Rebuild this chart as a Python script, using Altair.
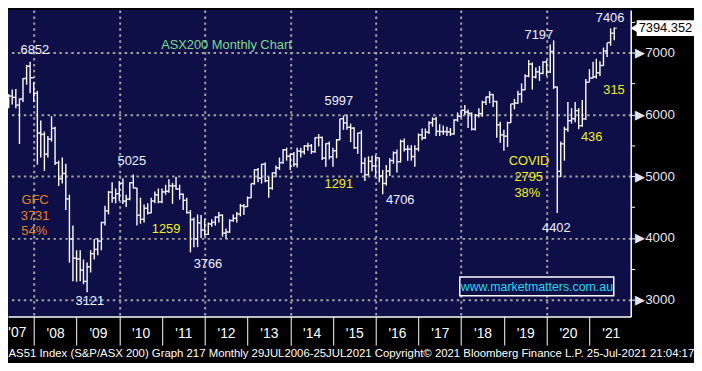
import altair as alt
import pandas as pd

# ---------------- data: ASX200 monthly OHLC (May 2007 .. Jul 2021) ----------------
first_month = "2007-05"
last_month = "2021-07"

opens = [
    6180, 6296, 6274, 6149, 6248, 6580, 6779, 6592,
    6340, 5697, 5675, 5355, 5598, 5773, 5215, 4958, 5043, 4631, 3983, 3672,
    3659, 3478, 3296, 3532, 3745, 3813, 3948, 4249, 4438, 4740, 4646, 4715,
    4883, 4596, 4627, 4893, 4807, 4367, 4301, 4479, 4403, 4598, 4697, 4585,
    4745, 4754, 4844, 4843, 4791, 4707, 4608, 4410, 4297, 3985, 4243, 4127,
    4057, 4226, 4251, 4335, 4366, 4076, 4095, 4281, 4316, 4387, 4517, 4506,
    4649, 4879, 5104, 4966, 5191, 4926, 4803, 5052, 5135, 5218, 5426, 5321,
    5353, 5191, 5405, 5394, 5489, 5492, 5396, 5623, 5625, 5292, 5527, 5313,
    5411, 5588, 5929, 5862, 5790, 5777, 5459, 5699, 5207, 5022, 5239, 5166,
    5296, 5005, 4881, 5082, 5252, 5378, 5233, 5562, 5433, 5436, 5317, 5440,
    5666, 5621, 5712, 5864, 5924, 5724, 5721, 5720, 5715, 5682, 5909, 5969,
    6065, 6037, 6016, 5759, 5983, 6012, 6195, 6281, 6320, 6208, 5830, 5668,
    5646, 5865, 6169, 6181, 6326, 6397, 6619, 6813, 6604, 6688, 6663, 6846,
    6684, 7017, 6441, 5077, 5523, 5756, 5898, 5928, 6061, 5816, 5928, 6518,
    6587, 6607, 6673, 6791, 7025, 7162, 7313,
]
highs = [
    6330, 6400, 6410, 6255, 6590, 6800, 6852, 6520,
    6380, 5900, 5720, 5650, 5970, 5800, 5250, 5300, 5200, 4700, 4200, 3800,
    3800, 3650, 3600, 3800, 3980, 4000, 4260, 4520, 4760, 4900, 4800, 4920,
    4960, 4700, 4900, 5025, 4810, 4650, 4540, 4560, 4650, 4750, 4800, 4800,
    4860, 4950, 4890, 4990, 4860, 4720, 4650, 4450, 4330, 4380, 4370, 4300,
    4250, 4300, 4350, 4420, 4380, 4150, 4300, 4380, 4420, 4550, 4550, 4670,
    4880, 5110, 5130, 5200, 5220, 4990, 5060, 5170, 5300, 5440, 5460, 5360,
    5390, 5460, 5460, 5500, 5540, 5520, 5630, 5680, 5640, 5530, 5560, 5460,
    5600, 5930, 5980, 5997, 5850, 5790, 5700, 5740, 5300, 5320, 5330, 5340,
    5300, 5100, 5180, 5290, 5400, 5430, 5590, 5610, 5500, 5500, 5500, 5690,
    5770, 5770, 5890, 5950, 5960, 5840, 5820, 5800, 5780, 5920, 6030, 6080,
    6150, 6080, 6030, 6000, 6100, 6220, 6290, 6373, 6330, 6220, 5880, 5750,
    5880, 6170, 6250, 6380, 6500, 6650, 6880, 6840, 6760, 6780, 6860, 6880,
    7130, 7197, 6450, 5560, 5800, 6200, 6100, 6200, 6100, 6230, 6570, 6730,
    6850, 6900, 6860, 7080, 7160, 7390, 7406,
]
lows = [
    6100, 6160, 6100, 5520, 6200, 6480, 6340, 6200,
    5186, 5300, 5086, 5300, 5560, 5180, 4840, 4880, 4450, 3600, 3300, 3290,
    3300, 3250, 3121, 3440, 3650, 3720, 3800, 4200, 4380, 4570, 4560, 4600,
    4550, 4500, 4610, 4800, 4200, 4230, 4250, 4380, 4400, 4560, 4560, 4560,
    4700, 4730, 4550, 4780, 4620, 4450, 4390, 3766, 3850, 3850, 4000, 4030,
    4050, 4180, 4200, 4250, 4020, 3985, 4080, 4260, 4250, 4350, 4370, 4500,
    4640, 4860, 4900, 4880, 4900, 4650, 4780, 4980, 5100, 5200, 5250, 5100,
    5150, 5140, 5300, 5350, 5410, 5360, 5380, 5480, 5260, 5150, 5270, 5150,
    5290, 5580, 5750, 5750, 5550, 5440, 5360, 5050, 4920, 5010, 5080, 4990,
    4900, 4706, 4850, 5000, 5200, 5060, 5220, 5400, 5250, 5250, 5150, 5400,
    5580, 5600, 5680, 5800, 5650, 5650, 5670, 5650, 5650, 5670, 5880, 5950,
    5990, 5780, 5740, 5740, 5950, 5960, 6150, 6180, 6120, 5620, 5540, 5410,
    5470, 5860, 6080, 6170, 6190, 6390, 6600, 6400, 6580, 6540, 6650, 6620,
    6670, 6410, 4402, 4980, 5250, 5720, 5850, 5870, 5760, 5800, 5910, 6520,
    6580, 6580, 6620, 6780, 6930, 7110, 7200,
]
closes = [
    6296, 6274, 6149, 6248, 6580, 6779, 6592, 6340,
    5697, 5675, 5355, 5598, 5773, 5215, 4958, 5043, 4631, 3983, 3672, 3659,
    3478, 3296, 3532, 3745, 3813, 3948, 4249, 4438, 4740, 4646, 4715, 4883,
    4596, 4627, 4893, 4807, 4367, 4301, 4479, 4403, 4598, 4697, 4585, 4745,
    4754, 4844, 4843, 4791, 4707, 4608, 4410, 4297, 3985, 4243, 4127, 4057,
    4226, 4251, 4335, 4366, 4076, 4095, 4281, 4316, 4387, 4517, 4506, 4649,
    4879, 5104, 4966, 5191, 4926, 4803, 5052, 5135, 5218, 5426, 5321, 5353,
    5191, 5405, 5394, 5489, 5492, 5396, 5623, 5625, 5292, 5527, 5313, 5411,
    5588, 5929, 5862, 5790, 5777, 5459, 5699, 5207, 5022, 5239, 5166, 5296,
    5005, 4881, 5082, 5252, 5378, 5233, 5562, 5433, 5436, 5317, 5440, 5666,
    5621, 5712, 5864, 5924, 5724, 5721, 5720, 5715, 5682, 5909, 5969, 6065,
    6037, 6016, 5759, 5983, 6012, 6195, 6281, 6320, 6208, 5830, 5668, 5646,
    5865, 6169, 6181, 6326, 6397, 6619, 6813, 6604, 6688, 6663, 6846, 6684,
    7017, 6441, 5077, 5523, 5756, 5898, 5928, 6061, 5816, 5928, 6518, 6587,
    6607, 6673, 6791, 7025, 7162, 7313, 7394.352,
]

last_price = 7394.352
last_price_label = "7394.352"

# annotations (text, anchor date, anchor value, colour group)
ann_text = ["ASX200 Monthly Chart", "6852", "5025", "GFC", "3731", "54%", "1259",
            "3121", "3766", "5997", "1291", "4706", "7197", "COVID", "2795",
            "38%", "4402", "436", "315", "7406"]
ann_date = ["2012-07-05", "2008-01-10", "2010-04-18", "2008-01-12", "2008-01-12",
            "2008-01-05", "2011-02-05", "2009-04-24", "2012-01-29", "2015-02-20",
            "2015-02-20", "2016-07-29", "2019-10-26", "2019-08-04", "2019-08-01",
            "2019-07-20", "2020-03-24", "2021-01-20", "2021-07-30", "2021-06-26"]
ann_value = [7128, 7048, 5240, 4616, 4360, 4104, 4136,
             2984, 3576, 6216, 4872, 4616, 7288, 5240, 4984,
             4728, 4152, 5640, 6392, 7560]
ann_kind = ["title", "level", "level", "gfc", "gfc", "gfc", "move",
            "level", "level", "level", "move", "level", "level", "move", "move",
            "move", "level", "move", "move", "level"]

# first (partial) year label, sitting left of the first January separator
first_year_label = "'07"
first_year_date = "2007-05-29"

web_text = "www.marketmatters.com.au"
web_box_dates = ["2017-12-20", "2021-07-28"]
web_box_values = [3368, 3064]
web_text_date = "2019-10-10"
web_text_value = 3212

footer = ("AS51 Index (S&P/ASX 200) Graph 217  Monthly 29JUL2006-25JUL2021  "
          "Copyright\u00a9 2021 Bloomberg Finance L.P.   25-Jul-2021 21:04:17")

# ---------------- tables ----------------
periods = pd.period_range(first_month, last_month, freq="M")
bar_dates = [(p + 1).start_time.strftime("%Y-%m-%d") for p in periods]
df = pd.DataFrame({"month": [str(p) for p in periods], "date": bar_dates,
                   "open": opens, "high": highs, "low": lows, "close": closes})

ann = pd.DataFrame({"text": ann_text, "date": ann_date, "value": ann_value, "kind": ann_kind})
box = pd.DataFrame({"d1": [web_box_dates[0]], "d2": [web_box_dates[1]],
                    "v1": [web_box_values[0]], "v2": [web_box_values[1]]})
web = pd.DataFrame({"text": [web_text], "date": [web_text_date], "value": [web_text_value]})
tag = pd.DataFrame({"value": [last_price], "text": [last_price_label]})
yr0 = pd.DataFrame({"text": [first_year_label], "date": [first_year_date]})

# ---------------- styling ----------------
NAVY = "#0f0f48"
GRID = "#a0a0a0"
SANS = "Liberation Sans, Arial, sans-serif"
YEAR_FONT_SIZE = 14
Y_MIN, Y_MAX = 2728, 7688
PLOT_H = 310

x_scale = alt.Scale(type="utc", domain=[alt.DateTime(year=2007, month=5, date=26, utc=True),
                                         alt.DateTime(year=2021, month=12, date=20, utc=True)])
y_scale = alt.Scale(domain=[Y_MIN, Y_MAX], nice=False, zero=False)

x_axis = alt.Axis(
    values=[alt.DateTime(year=yr, month=1, date=1, utc=True) for yr in range(2008, 2022)],
    labelExpr="\"'\" + utcFormat(datum.value, '%y')",
    labelOffset=21.6, labelPadding=-12, labelBaseline="middle",
    labelFont=SANS, labelFontSize=YEAR_FONT_SIZE, labelColor="white",
    labelOverlap=False, labelBound=False, labelFlush=False,
    tickColor="white", tickSize=29, tickWidth=1,
    domainColor="white", domainWidth=1.5,
    grid=True, gridColor=GRID, gridDash=[2.5, 3.5], gridWidth=2,
    gridOpacity={"condition": {"test": "utcyear(datum.value) % 2 == 0", "value": 1}, "value": 0},
    title=footer, titleFont=SANS, titleFontSize=11.5, titleFontWeight="normal",
    titleColor="white", titleAnchor="start", titleAlign="left",
    titleX=0, titleY=41, titleBaseline="alphabetic",
)
y_axis = alt.Axis(
    orient="right",
    values=list(range(3000, 8000, 500)),
    labelExpr="datum.value % 1000 == 0 ? '\u25b6' + datum.value : ''",
    labelFont=SANS, labelFontSize=13.5, labelColor="#e4e4f0", labelPadding=0,
    labelBaseline="middle",
    tickColor="white", tickSize=4, tickWidth=1,
    domainColor="white", domainWidth=1.5,
    grid=True, gridColor=GRID, gridDash=[2.5, 3.5], gridWidth=2,
    gridOpacity={"condition": {"test": "datum.value % 1000 == 0", "value": 1}, "value": 0},
    title=None,
)

X = alt.X("date:T", scale=x_scale, axis=x_axis)

base = alt.Chart(df).encode(x=X)

hl = base.mark_rule(color="white", strokeWidth=1.4).encode(
    y=alt.Y("low:Q", scale=y_scale, axis=y_axis), y2="high:Q")
op = base.mark_tick(orient="horizontal", color="white", size=2.6, thickness=1.4, xOffset=-1.3).encode(
    y=alt.Y("open:Q", scale=y_scale, axis=y_axis))
cl = base.mark_tick(orient="horizontal", color="white", size=2.6, thickness=1.4, xOffset=1.3).encode(
    y=alt.Y("close:Q", scale=y_scale, axis=y_axis))

color_scale = alt.Scale(domain=["title", "level", "gfc", "move"],
                        range=["#7ddc8c", "#f0f0ff", "#e8801e", "#f0f020"])
labels = alt.Chart(ann).mark_text(font=SANS, fontSize=13, baseline="middle", align="center").encode(
    x=X, y=alt.Y("value:Q", scale=y_scale, axis=y_axis), text="text:N",
    color=alt.Color("kind:N", scale=color_scale, legend=None))

# the '07 label lies left of the first year separator, under the plot (same band as the axis labels)
yr0_label = alt.Chart(yr0).mark_text(font=SANS, fontSize=YEAR_FONT_SIZE, color="white",
                                      baseline="middle", align="left",
                                      yOffset=PLOT_H + 17).encode(
    x=X, y=alt.value(0), text="text:N")

web_box = alt.Chart(box).mark_rect(fill=NAVY, stroke="white", strokeWidth=1.5).encode(
    x=alt.X("d1:T", scale=x_scale, axis=x_axis), x2="d2:T",
    y=alt.Y("v1:Q", scale=y_scale, axis=y_axis), y2="v2:Q")
web_label = alt.Chart(web).mark_text(font=SANS, fontSize=12.5, color="#22d8f0", baseline="middle").encode(
    x=X, y=alt.Y("value:Q", scale=y_scale, axis=y_axis), text="text:N")

tag_box = alt.Chart(tag).mark_rect(fill="white", yOffset=-8, y2Offset=8).encode(
    x=alt.value(636), x2=alt.value(694),
    y=alt.Y("value:Q", scale=y_scale, axis=y_axis), y2="value:Q")
tag_arrow = alt.Chart(tag).mark_point(shape="triangle-left", filled=True, color="white", size=60, opacity=1).encode(
    x=alt.value(633), y=alt.Y("value:Q", scale=y_scale, axis=y_axis))
tag_text = alt.Chart(tag).mark_text(font=SANS, fontSize=13, color="black", align="left", baseline="middle").encode(
    x=alt.value(638), y=alt.Y("value:Q", scale=y_scale, axis=y_axis), text="text:N")

chart = alt.layer(hl, op, cl, labels, yr0_label, web_box, web_label, tag_box, tag_arrow, tag_text).properties(
    width=630, height=PLOT_H, background="black",
    padding={"left": 0, "top": 0, "right": 64, "bottom": 45},
    autosize=alt.AutoSizeParams(type="none"),
).configure_view(fill=NAVY, stroke=None)

chart.save("out.html", embed_options={"renderer": "svg", "actions": False})
